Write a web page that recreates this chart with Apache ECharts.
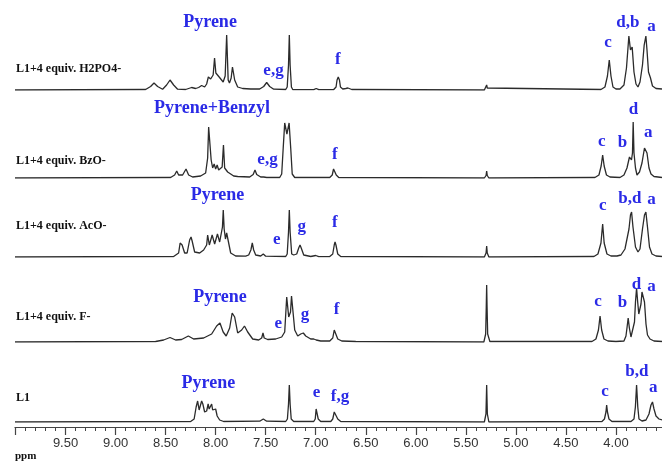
<!DOCTYPE html>
<html>
<head>
<meta charset="UTF-8" />
<title>1H NMR titration</title>
<script src="https://cdn.jsdelivr.net/npm/echarts@6/dist/echarts.min.js"></script>
<style>
  * { margin: 0; padding: 0; }
  body { background: #fff; }
</style>
</head>
<body>
<div id="main" style="width: 662px; height: 465px;"></div>
<script>
// sample names, top to bottom
const names = ["L1+4 equiv. H2PO4-", "L1+4 equiv. BzO-", "L1+4 equiv. AcO-", "L1+4 equiv. F-", "L1"];

// spectra: [ppm, intensity]
const specH2PO4 = [[10.005,0],[8.70,0.5],[8.65,3.5],[8.616,7],[8.58,3.5],[8.53,0.8],[8.49,5],[8.456,10],[8.42,5],[8.38,0.8],[8.30,0.5],[8.24,2.5],[8.20,1.5],[8.17,2.5],[8.14,4.5],[8.11,3],[8.09,6],[8.073,13],[8.05,11],[8.025,15],[8.011,32],[7.998,17],[7.981,19],[7.965,13],[7.947,15],[7.925,8],[7.905,14],[7.890,55],[7.875,10],[7.862,7],[7.845,12],[7.832,23],[7.81,10],[7.78,3],[7.73,1.5],[7.65,1],[7.56,1],[7.52,3.5],[7.49,7.5],[7.46,3.5],[7.42,0.8],[7.30,0.5],[7.285,3],[7.272,25],[7.264,55],[7.256,25],[7.243,3],[7.23,0.5],[7.02,0.3],[6.995,1.5],[6.97,0.3],[6.82,0.5],[6.797,3],[6.787,10],[6.775,13],[6.763,10],[6.753,3],[6.73,1],[6.70,1.5],[6.678,2],[6.64,0.5],[5.315,0],[5.298,2],[5.292,5],[5.286,2],[5.27,0],[4.15,0.5],[4.11,3],[4.085,14],[4.067,30],[4.05,14],[4.03,3],[4.00,1],[3.96,1],[3.92,5],[3.895,22],[3.871,54],[3.855,40],[3.838,43],[3.82,18],[3.80,6],[3.78,3],[3.76,8],[3.735,25],[3.718,45],[3.701,54],[3.69,40],[3.675,18],[3.655,12],[3.635,4],[3.60,1.5],[3.54,1]];

const specBzO = [[10.005,0],[8.45,0.5],[8.41,3],[8.389,7],[8.37,3],[8.33,3],[8.296,9],[8.27,3],[8.23,1],[8.15,2],[8.10,5],[8.08,20],[8.07,51],[8.058,51],[8.045,18],[8.03,10],[8.015,14],[8.00,9],[7.985,13],[7.97,8],[7.955,10],[7.935,11],[7.922,33],[7.91,10],[7.895,12],[7.88,6],[7.865,8],[7.85,4],[7.835,5],[7.82,2],[7.78,1.5],[7.66,1],[7.625,3.5],[7.607,8],[7.59,3.5],[7.55,1],[7.52,1],[7.507,2],[7.49,0.5],[7.36,0.5],[7.34,4],[7.325,30],[7.31,55],[7.288,44],[7.266,55],[7.25,30],[7.235,4],[7.21,0.5],[6.86,0.5],[6.835,3],[6.822,9],[6.815,10],[6.805,8],[6.795,3],[6.77,0.5],[5.315,0],[5.298,2.5],[5.292,7],[5.286,2.5],[5.27,0],[4.21,0.5],[4.17,3],[4.148,12],[4.133,23],[4.118,12],[4.095,3],[4.06,1],[3.96,0.5],[3.92,3],[3.89,10],[3.865,21],[3.845,18],[3.835,25],[3.828,56],[3.82,25],[3.805,10],[3.79,3],[3.765,6],[3.74,15],[3.715,30],[3.704,31],[3.69,25],[3.67,10],[3.65,4],[3.62,1.5],[3.54,0.5]];

const specAcO = [[10.005,0],[8.42,0.5],[8.37,4],[8.355,14],[8.346,15],[8.335,12],[8.31,4],[8.285,4],[8.26,17],[8.246,20],[8.235,16],[8.21,5],[8.16,4],[8.12,7],[8.09,12],[8.08,22],[8.073,23],[8.063,12],[8.05,14],[8.035,22],[8.023,24],[8.01,13],[7.995,14],[7.982,23],[7.974,24],[7.96,15],[7.945,16],[7.932,30],[7.924,47],[7.915,28],[7.902,18],[7.89,24],[7.88,25],[7.87,14],[7.85,4],[7.80,1],[7.70,0.8],[7.67,2],[7.648,7],[7.634,14],[7.62,7],[7.60,2],[7.55,1],[7.524,3],[7.50,0.8],[7.30,0.5],[7.285,3],[7.272,25],[7.264,47],[7.256,25],[7.24,3],[7.22,2],[7.19,3],[7.17,9],[7.157,12],[7.145,9],[7.12,2],[7.05,0.5],[7.0,1.5],[6.97,0.3],[6.86,0.5],[6.83,3],[6.815,12],[6.807,15],[6.798,12],[6.78,3],[6.75,0.5],[5.315,0],[5.298,4],[5.292,11],[5.286,4],[5.27,0],[4.22,0.5],[4.18,3],[4.15,14],[4.133,33],[4.118,14],[4.09,3],[4.05,1],[3.99,1],[3.95,2],[3.91,8],[3.87,28],[3.855,42],[3.844,45],[3.83,30],[3.805,10],[3.78,5],[3.76,8],[3.735,28],[3.715,42],[3.701,45],[3.685,30],[3.665,10],[3.64,3],[3.60,1],[3.54,0.5]];

const specF = [[10.005,0],[8.60,0.5],[8.52,2],[8.456,4.5],[8.40,2],[8.34,2.5],[8.273,6],[8.22,3],[8.12,4],[8.04,8],[7.99,16],[7.957,19],[7.925,10],[7.895,6],[7.86,14],[7.835,29],[7.824,30],[7.81,25],[7.78,9],[7.765,8],[7.74,12],[7.712,16],[7.68,10],[7.63,3],[7.57,2],[7.54,4],[7.527,9],[7.515,4],[7.48,2.5],[7.40,3],[7.34,5],[7.31,10],[7.29,45],[7.282,46],[7.27,25],[7.252,30],[7.242,46],[7.232,45],[7.21,12],[7.18,6],[7.15,8],[7.124,9],[7.10,6],[7.05,3],[7.02,3],[7.007,5],[6.995,2],[6.95,1],[6.86,1],[6.83,4],[6.815,12],[6.807,14],[6.798,11],[6.78,3],[6.74,1],[6.60,0.5],[5.32,0],[5.302,8],[5.296,35],[5.292,57],[5.288,35],[5.282,8],[5.26,0.5],[4.24,0.5],[4.20,3],[4.175,12],[4.159,26],[4.143,12],[4.12,3],[4.08,1],[4.0,0.5],[3.92,1],[3.90,6],[3.89,14],[3.878,24],[3.866,14],[3.85,5],[3.835,6],[3.815,20],[3.805,40],[3.794,54],[3.783,40],[3.772,28],[3.762,27],[3.75,38],[3.74,50],[3.728,52],[3.715,40],[3.70,18],[3.685,7],[3.66,3],[3.62,1],[3.54,0.5]];

const specL1 = [[10.005,0],[8.25,0.5],[8.215,3],[8.195,15],[8.18,21],[8.165,12],[8.155,12],[8.14,21],[8.128,18],[8.11,10],[8.09,11],[8.075,18],[8.065,13],[8.055,15],[8.04,18],[8.03,12],[8.015,10],[8.00,13],[7.985,6],[7.96,2],[7.92,0.5],[7.56,0.8],[7.524,3],[7.49,0.8],[7.30,0.5],[7.283,3],[7.272,18],[7.264,37],[7.256,18],[7.245,3],[7.22,0.5],[7.02,0.5],[7.005,3],[6.996,13],[6.99,15],[6.984,13],[6.975,3],[6.95,0.5],[6.85,0.5],[6.83,3],[6.815,10],[6.807,12],[6.798,10],[6.78,3],[6.75,0.5],[5.315,0],[5.299,8],[5.292,37],[5.285,8],[5.27,0],[4.14,0.5],[4.115,3],[4.10,10],[4.093,17],[4.085,10],[4.07,3],[4.04,0.5],[3.85,0.5],[3.82,3],[3.806,15],[3.794,37],[3.782,15],[3.77,3],[3.74,1],[3.70,2],[3.67,8],[3.65,17],[3.635,20],[3.62,13],[3.60,6],[3.57,3],[3.54,2]];

// peak labels: [text, ppm, height]
const annH2PO4 = [["Pyrene",8.056,68],["e,g",7.422,19],["f",6.778,30],["c",4.080,47],["d,b",3.881,67],["a",3.644,63]];
const annBzO = [["Pyrene+Benzyl",8.036,70],["e,g",7.482,18],["f",6.808,23],["c",4.143,36],["b",3.934,35],["d",3.826,68],["a",3.678,45]];
const annAcO = [["Pyrene",7.982,62],["e",7.390,17],["g",7.140,30],["f",6.808,34],["c",4.133,51],["b,d",3.861,58],["a",3.644,57]];
const annF = [["Pyrene",7.957,45],["e",7.374,18],["g",7.107,27],["f",6.791,32],["c",4.180,40],["b",3.934,39],["d",3.794,57],["a",3.644,55]];
const annL1 = [["Pyrene",8.073,39],["e",6.991,29],["f,g",6.758,25],["c",4.110,30],["b,d",3.791,50],["a",3.628,34]];

// axis ticks
const minorTicks = [10.0,9.9,9.8,9.7,9.6,9.5,9.4,9.3,9.2,9.1,9.0,8.9,8.8,8.7,8.6,8.5,8.4,8.3,8.2,8.1,8.0,7.9,7.8,7.7,7.6,7.5,7.4,7.3,7.2,7.1,7.0,6.9,6.8,6.7,6.6,6.5,6.4,6.3,6.2,6.1,6.0,5.9,5.8,5.7,5.6,5.5,5.4,5.3,5.2,5.1,5.0,4.9,4.8,4.7,4.6,4.5,4.4,4.3,4.2,4.1,4.0,3.9,3.8,3.7,3.6];
const majorTicks = [10.0,9.5,9.0,8.5,8.0,7.5,7.0,6.5,6.0,5.5,5.0,4.5,4.0];
const tickLabels = [9.5,9.0,8.5,8.0,7.5,7.0,6.5,6.0,5.5,5.0,4.5,4.0];

const spectra = [specH2PO4, specBzO, specAcO, specF, specL1];
const anns = [annH2PO4, annBzO, annAcO, annF, annL1];

// layout
const baselines = [90, 178, 257, 342, 422];
const nameY = [70, 162, 227, 318, 399];
const gridH = 80;
const X_MIN = 3.54, X_MAX = 10.005;
const blue = "#2a2ae6";
const serif = "'Liberation Serif', 'DejaVu Serif', serif";

let myChart = echarts.init(document.getElementById("main"));

let grids = [], xAxes = [], yAxes = [], series = [], graphics = [];
for (let i = 0; i < spectra.length; i++) {
  grids.push({ left: 15, right: 0, top: baselines[i] - gridH, height: gridH });
  xAxes.push({ type: "value", gridIndex: i, min: X_MIN, max: X_MAX, inverse: true, show: false });
  yAxes.push({ type: "value", gridIndex: i, min: 0, max: gridH, show: false });
  series.push({
    type: "line",
    xAxisIndex: i,
    yAxisIndex: i,
    data: spectra[i],
    showSymbol: false,
    symbol: "none",
    silent: true,
    lineStyle: { color: "#2b2b2b", width: 1.3 },
    markPoint: {
      symbol: "circle",
      symbolSize: 1,
      itemStyle: { color: "rgba(0,0,0,0)" },
      silent: true,
      data: anns[i].map(function (a) {
        return {
          name: a[0],
          coord: [a[1], a[2]],
          label: { fontSize: a[0].length > 3 ? 18 : 17 },
        };
      }),
      label: {
        show: true,
        position: "inside",
        formatter: "{b}",
        color: blue,
        fontFamily: serif,
        fontWeight: "bold",
      },
    },
  });
  graphics.push({
    type: "text",
    left: 16,
    top: nameY[i] - 7,
    style: { text: names[i], font: "bold 12px " + serif, fill: "#111" },
  });
}

// bottom axis: minor ticks and major ticks with labels
const axisBase = {
  type: "value",
  gridIndex: 4,
  min: X_MIN,
  max: X_MAX,
  inverse: true,
  position: "bottom",
  offset: 5,
  splitLine: { show: false },
};
xAxes.push(Object.assign({}, axisBase, {
  axisLine: { show: true, lineStyle: { color: "#444", width: 1.2 } },
  axisTick: { show: true, customValues: minorTicks, length: 4, lineStyle: { color: "#444", width: 1 } },
  axisLabel: { show: false },
}));
xAxes.push(Object.assign({}, axisBase, {
  axisLine: { show: false },
  axisTick: { show: true, customValues: majorTicks, length: 8, lineStyle: { color: "#444", width: 1.2 } },
  axisLabel: {
    show: true,
    customValues: tickLabels,
    margin: 10,
    color: "#333",
    fontSize: 13,
    fontFamily: "'Liberation Sans', Arial, sans-serif",
    formatter: function (v) { return v.toFixed(2); },
  },
}));

graphics.push({
  type: "text",
  left: 15,
  top: 451,
  style: { text: "ppm", font: "bold 11px " + serif, fill: "#111" },
});

let option = {
  animation: false,
  backgroundColor: "#fff",
  grid: grids,
  xAxis: xAxes,
  yAxis: yAxes,
  series: series,
  graphic: graphics,
};
myChart.setOption(option);
</script>
</body>
</html>
